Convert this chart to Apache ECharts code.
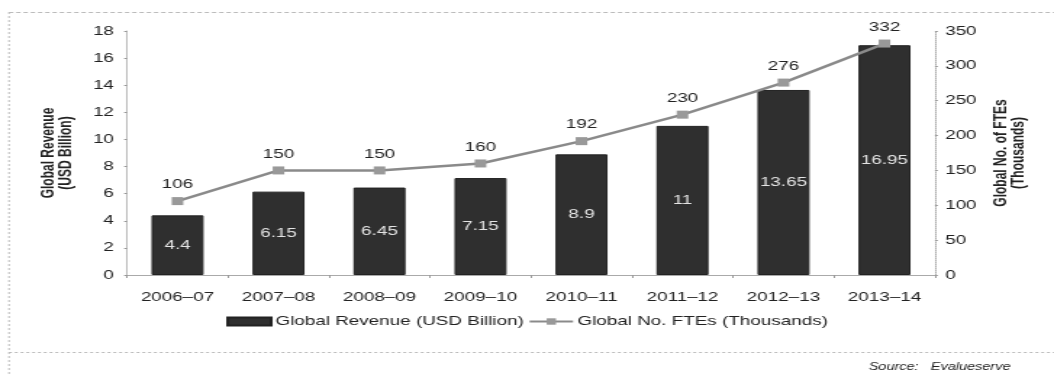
<!DOCTYPE html>
<html><head><meta charset="utf-8">
<script src="https://cdn.jsdelivr.net/npm/echarts@6/dist/echarts.min.js"></script>
<style>
html,body{margin:0;padding:0;background:#fff;overflow:hidden;width:1054px;height:374px}
#c{width:727px;height:374px;transform:scaleX(1.4498);transform-origin:0 0}
</style>
</head><body><div id="c"></div>
<script>
var categories = ['2006–07','2007–08','2008–09','2009–10','2010–11','2011–12','2012–13','2013–14'];
var revenue = [4.4, 6.15, 6.45, 7.15, 8.9, 11, 13.65, 16.95];
var ftes = [106, 150, 150, 160, 192, 230, 276, 332];
var leftTicks = {min: 0, max: 18, interval: 2};
var rightTicks = {min: 0, max: 350, interval: 50};

// The reference image is horizontally stretched; the chart is laid out in a
// 727px-wide box and widened with a CSS scaleX to 1054px.
var font = "'Liberation Sans', Arial, sans-serif";
var narrow = "'Liberation Sans Narrow', 'Liberation Sans', sans-serif";
var chart = echarts.init(document.getElementById('c'), null, {renderer: 'canvas'});
chart.setOption({
  animation: false,
  textStyle: {fontFamily: font},
  grid: {left: 87.6, right: 82.1, top: 31, bottom: 99, containLabel: false},
  legend: {
    top: 310, left: 'center', itemGap: 3, itemWidth: 30, itemHeight: 8,
    textStyle: {fontSize: 13, color: '#222', fontFamily: font, padding: [0, 0, 0, -2]},
    data: [{name: 'Global Revenue (USD Billion)', icon: 'rect'}, {name: 'Global No. FTEs (Thousands)'}]
  },
  xAxis: {
    type: 'category', data: categories,
    axisLine: {lineStyle: {color: '#aaa', width: 1}},
    axisTick: {show: true, length: 3, lineStyle: {color: '#999'}},
    axisLabel: {fontSize: 13, color: '#222', margin: 16, fontFamily: font}
  },
  yAxis: [{
    type: 'value', min: leftTicks.min, max: leftTicks.max, interval: leftTicks.interval,
    name: 'Global Revenue\n(USD Billion)', nameLocation: 'middle', nameGap: 36, nameRotate: 90,
    nameTextStyle: {fontSize: 12, fontWeight: 'bold', color: '#222', fontFamily: narrow, lineHeight: 12},
    axisLine: {show: true, lineStyle: {color: '#bbb'}},
    axisTick: {show: true, length: 2, lineStyle: {color: '#999'}},
    splitLine: {show: false},
    axisLabel: {fontSize: 13, color: '#222', margin: 9, fontFamily: font}
  }, {
    type: 'value', min: rightTicks.min, max: rightTicks.max, interval: rightTicks.interval,
    name: 'Global No. of FTEs\n(Thousands)', nameLocation: 'middle', nameGap: 38, nameRotate: 90,
    nameTextStyle: {fontSize: 12, fontWeight: 'bold', color: '#222', fontFamily: narrow, lineHeight: 12},
    axisLine: {show: true, lineStyle: {color: '#aaa', type: 'dotted'}},
    axisTick: {show: true, length: 2, lineStyle: {color: '#999'}},
    splitLine: {show: false},
    axisLabel: {fontSize: 13, color: '#222', margin: 7, fontFamily: font}
  }],
  series: [{
    name: 'Global Revenue (USD Billion)', type: 'bar', data: revenue, yAxisIndex: 0,
    barWidth: 35.9,
    itemStyle: {color: '#2f2f2f', borderColor: '#222', borderWidth: 1},
    label: {show: true, position: 'inside', color: '#e4e4e4', fontSize: 13, fontFamily: font}
  }, {
    name: 'Global No. FTEs (Thousands)', type: 'line', data: ftes, yAxisIndex: 1,
    symbol: 'rect', symbolSize: 8,
    lineStyle: {color: '#8a8a8a', width: 2.5},
    itemStyle: {color: '#999'},
    label: {show: true, position: 'top', distance: 6, color: '#222', fontSize: 13, fontFamily: font}
  }],
  graphic: [
    {type: 'line', shape: {x1: 6.2, y1: 12.5, x2: 727, y2: 12.5}, style: {stroke: '#bbb', lineWidth: 1, lineDash: [3, 2]}},
    {type: 'line', shape: {x1: 6.2, y1: 12, x2: 6.2, y2: 374}, style: {stroke: '#bbb', lineWidth: 1, lineDash: [2, 2]}},
    {type: 'line', shape: {x1: 6.2, y1: 352.5, x2: 727, y2: 352.5}, style: {stroke: '#bbb', lineWidth: 1, lineDash: [2, 2]}},
    {type: 'text', right: 30, top: 362, style: {text: 'Source:   Evalueserve', fontSize: 10, fontStyle: 'italic', fill: '#222', fontFamily: font}}
  ]
});
</script></body></html>
